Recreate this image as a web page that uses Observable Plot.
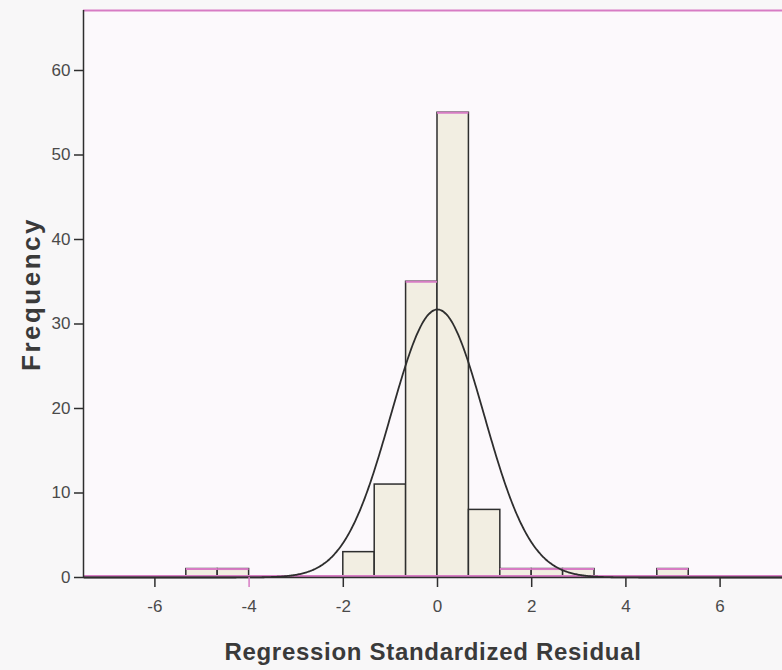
<!DOCTYPE html>
<html>
<head>
<meta charset="utf-8">
<script src="https://cdn.jsdelivr.net/npm/d3@7"></script>
<script src="https://cdn.jsdelivr.net/npm/@observablehq/plot@0.6"></script>
<style>
  html, body { margin: 0; padding: 0; background: #f8f7f8; }
  #chart svg { font-family: "Liberation Sans", Arial, sans-serif; background: transparent; }
</style>
</head>
<body>
<div id="chart"></div>
<script>
// Histogram bins (left edge of each bin) and frequencies
const binStarts = [-5.333, -4.667, -2.0, -1.333, -0.667, 0.0, 0.667, 1.333, 2.0, 2.667, 4.667];
const counts    = [1, 1, 3, 11, 35, 55, 8, 1, 1, 1, 1];
const binWidth = 0.667;
// Normal curve parameters (SPSS overlay)
const curveMean = 0.0;
const curveSD = 0.99;
const totalN = 118;
// Axis ticks
const xTicks = [-6, -4, -2, 0, 2, 4, 6];
const yTicks = [0, 10, 20, 30, 40, 50, 60];
const xTitle = "Regression Standardized Residual";
const yTitle = "Frequency";

const bars = binStarts.map((s, i) => ({x1: s, x2: s + binWidth, y: counts[i]}));
const curve = d3.range(-7.5, 7.34, 0.02).map(x => ({
  x,
  y: totalN * binWidth * Math.exp(-0.5 * ((x - curveMean) / curveSD) ** 2) / (curveSD * Math.sqrt(2 * Math.PI))
}));

const pink = "#d77cc4";
const dark = "#2e2e2e";
const labelGray = "#4a4a4a";
const xDomain = [-7.516, 7.325];
const yMax = 67.1;

const chart = Plot.plot({
  width: 782,
  height: 670,
  marginLeft: 83,
  marginRight: 0,
  marginTop: 10,
  marginBottom: 93,
  style: {background: "transparent"},
  x: {domain: xDomain, label: null},
  y: {domain: [0, yMax], label: null},
  marks: [
    Plot.frame({fill: "#fcf9fc", stroke: "none"}),
    // histogram bars
    Plot.rectY(bars, {x1: "x1", x2: "x2", y: "y", fill: "#f2eee2", stroke: dark, strokeWidth: 1.5}),
    // pink bar tops (scan artefact)
    Plot.ruleY(bars.filter(d => d.y === 1 || d.y >= 35), {x1: "x1", x2: "x2", y: "y", stroke: pink, strokeWidth: 2}),
    // baseline
    Plot.ruleY([0], {stroke: pink, strokeWidth: 2, dy: -1.5}),
    Plot.ruleY([0], {stroke: dark, strokeWidth: 1.5}),
    // top frame line
    Plot.ruleY([yMax], {stroke: pink, strokeWidth: 2}),
    // left axis line
    Plot.ruleX([xDomain[0]], {stroke: dark, strokeWidth: 1.5}),
    // normal curve
    Plot.line(curve, {x: "x", y: "y", stroke: dark, strokeWidth: 1.8, curve: "basis"}),
    // axis ticks (marks only)
    Plot.axisY(yTicks, {tickSize: 9, stroke: dark, strokeWidth: 1.5, tickFormat: () => "", label: null}),
    Plot.axisX(xTicks, {tickSize: 10, stroke: d => d === -4 ? pink : dark, strokeWidth: 1.5, tickFormat: () => "", label: null}),
    // tick labels
    Plot.text(yTicks, {x: xDomain[0], y: d => d, text: d => String(d), dx: -13, textAnchor: "end",
      lineAnchor: "middle", fontSize: 17, fill: labelGray}),
    Plot.text(xTicks, {x: d => d, y: 0, text: d => String(d), dy: 29, textAnchor: "middle",
      lineAnchor: "middle", fontSize: 17, fill: labelGray}),
    // axis titles
    Plot.text([xTitle], {frameAnchor: "bottom", dy: 75, text: d => d, fontSize: 24, fontWeight: "bold",
      fill: "#3a3a3a", lineAnchor: "middle"}),
    Plot.text([yTitle], {frameAnchor: "left", dx: -52, text: d => d, fontSize: 26, fontWeight: "bold",
      fill: "#3a3a3a", rotate: -90, textAnchor: "middle", lineAnchor: "middle"})
  ]
});
document.getElementById("chart").appendChild(chart);
chart.querySelectorAll("text").forEach(t => {
  if (t.textContent === xTitle) t.style.setProperty("letter-spacing", "0.7px");
  if (t.textContent === yTitle) t.style.setProperty("letter-spacing", "2.5px");
});
</script>
</body>
</html>
